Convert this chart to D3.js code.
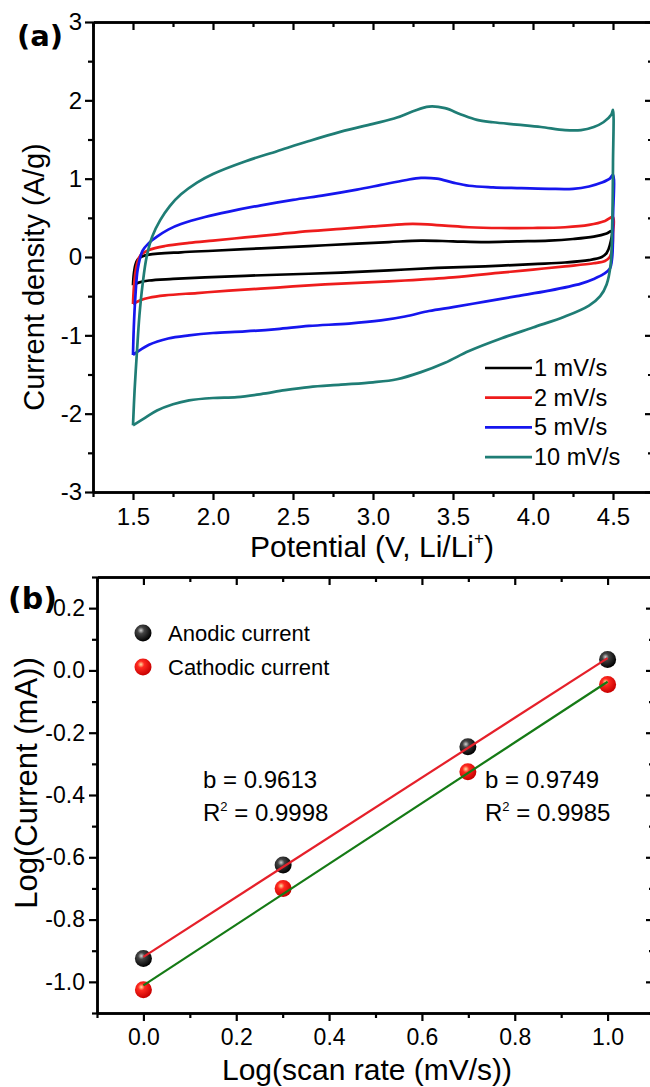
<!DOCTYPE html>
<html>
<head>
<meta charset="utf-8">
<script src="https://cdn.jsdelivr.net/npm/d3@7"></script>
<style>
body { margin: 0; background: #fff; }
svg { display: block; font-family: "Liberation Sans", Arial, sans-serif; }
</style>
</head>
<body>
<div id="chart"></div>
<script>
// (a) CV loops, [potential V, current density A/g], forward sweep then reverse
const cv1 = [
    [1.5, -0.36], [1.505, -0.22], [1.515, -0.1], [1.53, -0.03], [1.56, 0.01], [1.6, 0.03],
    [1.8, 0.06], [2.0, 0.08], [2.3, 0.11], [2.6, 0.14], [2.9, 0.17], [3.1, 0.19], [3.3, 0.21],
    [3.5, 0.2], [3.7, 0.19], [3.9, 0.2], [4.1, 0.21], [4.25, 0.23], [4.38, 0.26], [4.46, 0.3],
    [4.49, 0.33],
    [4.48, 0.15], [4.46, 0.05], [4.43, 0.0], [4.35, -0.04], [4.2, -0.07], [4.0, -0.09],
    [3.7, -0.12], [3.4, -0.14], [3.1, -0.17], [2.8, -0.2], [2.5, -0.22], [2.2, -0.24],
    [1.95, -0.26], [1.75, -0.28], [1.6, -0.3], [1.53, -0.33], [1.5, -0.36]
];
const cv2 = [
    [1.5, -0.6], [1.505, -0.4], [1.515, -0.2], [1.53, -0.05], [1.55, 0.03], [1.6, 0.09],
    [1.7, 0.14], [1.85, 0.18], [2.0, 0.21], [2.2, 0.25], [2.4, 0.29], [2.6, 0.33], [2.8, 0.36],
    [3.0, 0.39], [3.2, 0.42], [3.3, 0.42], [3.45, 0.4], [3.6, 0.38], [3.8, 0.37], [4.0, 0.37],
    [4.2, 0.38], [4.35, 0.41], [4.45, 0.46], [4.5, 0.51],
    [4.5, 0.3], [4.495, 0.1], [4.48, 0.0], [4.45, -0.05], [4.38, -0.08], [4.2, -0.12],
    [4.0, -0.16], [3.8, -0.2], [3.5, -0.26], [3.2, -0.3], [3.0, -0.32], [2.7, -0.35],
    [2.4, -0.39], [2.1, -0.43], [1.9, -0.46], [1.7, -0.49], [1.6, -0.52], [1.55, -0.55], [1.5, -0.6]
];
const cv5 = [
    [1.5, -1.25], [1.505, -0.9], [1.515, -0.5], [1.53, -0.15], [1.56, 0.08], [1.6, 0.18],
    [1.65, 0.26], [1.72, 0.35], [1.8, 0.42], [1.95, 0.51], [2.1, 0.58], [2.3, 0.66], [2.5, 0.73],
    [2.7, 0.79], [2.9, 0.86], [3.05, 0.92], [3.2, 0.98], [3.3, 1.01], [3.4, 1.0], [3.5, 0.95],
    [3.6, 0.91], [3.75, 0.89], [3.9, 0.88], [4.1, 0.87], [4.25, 0.87], [4.35, 0.9], [4.43, 0.95],
    [4.48, 1.0], [4.5, 1.05],
    [4.5, 0.5], [4.495, 0.0], [4.48, -0.15], [4.44, -0.22], [4.38, -0.28], [4.3, -0.34],
    [4.1, -0.43], [3.9, -0.5], [3.7, -0.57], [3.5, -0.64], [3.35, -0.69], [3.2, -0.76],
    [3.05, -0.81], [2.85, -0.85], [2.6, -0.88], [2.4, -0.92], [2.2, -0.95], [2.0, -0.97],
    [1.85, -1.0], [1.72, -1.04], [1.6, -1.12], [1.5, -1.25]
];
const cv10 = [
    [1.5, -2.15], [1.51, -1.7], [1.525, -1.2], [1.54, -0.75], [1.56, -0.35], [1.585, 0.0],
    [1.62, 0.26], [1.67, 0.47], [1.73, 0.65], [1.8, 0.8], [1.9, 0.95], [2.0, 1.06], [2.2, 1.22],
    [2.4, 1.35], [2.6, 1.48], [2.8, 1.6], [3.0, 1.7], [3.15, 1.78], [3.25, 1.86], [3.35, 1.92],
    [3.45, 1.9], [3.55, 1.82], [3.65, 1.75], [3.75, 1.72], [3.9, 1.69], [4.05, 1.66], [4.2, 1.62],
    [4.3, 1.62], [4.38, 1.66], [4.44, 1.72], [4.49, 1.82], [4.5, 1.88],
    [4.5, 1.2], [4.495, 0.4], [4.485, -0.1], [4.46, -0.35], [4.42, -0.5], [4.35, -0.62],
    [4.2, -0.76], [4.0, -0.9], [3.8, -1.04], [3.6, -1.2], [3.45, -1.35], [3.3, -1.47],
    [3.15, -1.56], [3.0, -1.6], [2.8, -1.63], [2.6, -1.66], [2.45, -1.7], [2.3, -1.75],
    [2.15, -1.79], [2.0, -1.8], [1.85, -1.83], [1.75, -1.88], [1.65, -1.96], [1.57, -2.06],
    [1.5, -2.15]
];
const scanRates = ['1 mV/s', '2 mV/s', '5 mV/s', '10 mV/s'];
const cvColors = ['#000000', '#ee1c1c', '#1616ee', '#1f7d75'];
const potentialTicks = [1.5, 2.0, 2.5, 3.0, 3.5, 4.0, 4.5];
const densityTicks = [-3, -2, -1, 0, 1, 2, 3];

// (b) log(peak current) vs log(scan rate)
const logRate = [0, 0.301, 0.699, 1];
const anodic = [-0.925, -0.625, -0.245, 0.035];
const cathodic = [-1.025, -0.7, -0.325, -0.045];
const bValues = ['0.9613', '0.9749'];
const r2Values = ['0.9998', '0.9985'];
const logRateTicks = [0.0, 0.2, 0.4, 0.6, 0.8, 1.0];
const logCurrentTicks = [-1.0, -0.8, -0.6, -0.4, -0.2, 0.0, 0.2];

const width = 650, height = 1087;
const svg = d3.select('#chart').append('svg')
    .attr('width', width)
    .attr('height', height);

const defs = svg.append('defs');
function ball(id, hi, mid, dark) {
    const g = defs.append('radialGradient').attr('id', id)
        .attr('cx', '38%').attr('cy', '35%').attr('r', '65%');
    g.append('stop').attr('offset', '0%').attr('stop-color', hi);
    g.append('stop').attr('offset', '30%').attr('stop-color', mid);
    g.append('stop').attr('offset', '100%').attr('stop-color', dark);
}
ball('ballBlack', '#d0d0d0', '#444', '#000');
ball('ballRed', '#ffe0a0', '#ff2a20', '#c80000');

function frame(g, x, y, o) {
    const [x0, x1] = x.range(), [y0, y1] = y.range();
    const put = (axis, tx, ty) => {
        const a = g.append('g').attr('transform', `translate(${tx},${ty})`).call(axis);
        a.attr('font-size', o.fontSize).attr('font-family', '"Liberation Sans", Arial, sans-serif');
        a.select('.domain').attr('stroke-width', 2.5);
        a.selectAll('line').attr('stroke-width', 2.2);
        a.selectAll('text').style('font-size', o.fontSize + 'px').attr('fill', '#000');
        return a;
    };
    // minor ticks first, majors with labels on top
    put(d3.axisBottom(x).tickValues(o.xMinor).tickSize(5).tickSizeOuter(0).tickFormat(''), 0, y0);
    put(d3.axisBottom(x).tickValues(o.xMajor).tickSize(8).tickSizeOuter(0)
        .tickPadding(o.xPad).tickFormat(o.xFmt), 0, y0);
    put(d3.axisLeft(y).tickValues(o.yMinor).tickSize(5).tickSizeOuter(0).tickFormat(''), x0, 0);
    put(d3.axisLeft(y).tickValues(o.yMajor).tickSize(8).tickSizeOuter(0)
        .tickPadding(o.yPad).tickFormat(o.yFmt), x0, 0);
    put(d3.axisTop(x).tickValues(o.xMinor).tickSize(-5).tickSizeOuter(0).tickFormat(''), 0, y1);
    put(d3.axisTop(x).tickValues(o.xMajor).tickSize(-8).tickSizeOuter(0).tickFormat(''), 0, y1);
    put(d3.axisRight(y).tickValues(o.yMinor).tickSize(-5).tickSizeOuter(0).tickFormat(''), x1, 0);
    put(d3.axisRight(y).tickValues(o.yMajor).tickSize(-8).tickSizeOuter(0).tickFormat(''), x1, 0);
}

function label(g, x, y, str, size, opts = {}) {
    return g.append('text')
        .attr('x', x).attr('y', y)
        .attr('font-size', size)
        .attr('text-anchor', opts.anchor || 'start')
        .attr('font-weight', opts.weight || null)
        .attr('font-family', opts.family || null)
        .attr('transform', opts.rotate ? `rotate(-90,${x},${y})` : null)
        .text(str);
}

// ---------- panel (a) ----------
const ga = svg.append('g');
const xa = d3.scaleLinear().domain([1.25, 4.75]).range([93, 653]);
const ya = d3.scaleLinear().domain([-3, 3]).range([492, 22]);

const cvLine = d3.line()
    .x(d => xa(d[0]))
    .y(d => ya(d[1]))
    .curve(d3.curveCatmullRom.alpha(0.5));

[cv1, cv2, cv5, cv10].forEach((loop, i) => {
    ga.append('path')
        .attr('d', cvLine(loop))
        .attr('fill', 'none')
        .attr('stroke', cvColors[i])
        .attr('stroke-width', 2.7)
        .attr('stroke-linejoin', 'round');
});

frame(ga, xa, ya, {
    xMajor: potentialTicks, xMinor: d3.range(1.25, 4.8, 0.5),
    yMajor: densityTicks, yMinor: d3.range(-2.5, 3, 1),
    xFmt: d => d.toFixed(1), yFmt: d => String(d),
    xPad: 8, yPad: 3, fontSize: 24
});

const legA = ga.append('g');
scanRates.forEach((s, i) => {
    const ly = 368 + i * 29.7;
    legA.append('line')
        .attr('x1', 485).attr('x2', 532).attr('y1', ly).attr('y2', ly)
        .attr('stroke', cvColors[i]).attr('stroke-width', 2.7);
    label(legA, 534, ly + 8, s, 23.5);
});

label(ga, 17, 46, '(a)', 29, { weight: 'bold', family: '"DejaVu Sans", sans-serif' });
label(ga, 44, 277, 'Current density (A/g)', 29, { anchor: 'middle', rotate: true });
const ta = label(ga, 372, 557, 'Potential (V, Li/Li', 30, { anchor: 'middle' });
ta.append('tspan').attr('font-size', 17).attr('dy', -13).text('+');
ta.append('tspan').attr('dy', 13).text(')');

// ---------- panel (b) ----------
const gb = svg.append('g');
const xb = d3.scaleLinear().domain([-0.1, 1.1]).range([97, 654]);
const yb = d3.scaleLinear().domain([-1.1, 0.3]).range([1013, 577]);

function fit(xs, ys) {
    const mx = d3.mean(xs), my = d3.mean(ys);
    const sxy = d3.sum(xs, (v, i) => (v - mx) * (ys[i] - my));
    const sxx = d3.sum(xs, v => (v - mx) * (v - mx));
    const k = sxy / sxx;
    return [[0, my - k * mx], [1, my + k * (1 - mx)]];
}

const series = [
    { ys: anodic, ballFill: 'url(#ballBlack)', fitColor: '#e5202a' },
    { ys: cathodic, ballFill: 'url(#ballRed)', fitColor: '#157a15' }
];

series.forEach(s => {
    gb.append('g').selectAll('circle')
        .data(logRate.map((v, i) => [v, s.ys[i]]))
        .enter().append('circle')
        .attr('cx', d => xb(d[0]))
        .attr('cy', d => yb(d[1]))
        .attr('r', 8.5)
        .attr('fill', s.ballFill);
});

const fitLine = d3.line().x(d => xb(d[0])).y(d => yb(d[1]));
series.forEach(s => {
    gb.append('path')
        .attr('d', fitLine(fit(logRate, s.ys)))
        .attr('stroke', s.fitColor)
        .attr('stroke-width', 2.2)
        .attr('fill', 'none');
});

frame(gb, xb, yb, {
    xMajor: logRateTicks, xMinor: d3.range(-0.1, 1.15, 0.2),
    yMajor: logCurrentTicks, yMinor: d3.range(-1.1, 0.35, 0.2),
    xFmt: d => d.toFixed(1), yFmt: d => d.toFixed(1),
    xPad: 8, yPad: 4, fontSize: 23
});

const legB = gb.append('g');
[['Anodic current', 'url(#ballBlack)'], ['Cathodic current', 'url(#ballRed)']].forEach((d, i) => {
    const ly = 633 + i * 34;
    legB.append('circle').attr('cx', 143).attr('cy', ly).attr('r', 8.5).attr('fill', d[1]);
    label(legB, 168, ly + 8, d[0], 22);
});

[[203, 0], [485, 1]].forEach(([ax, i]) => {
    label(gb, ax, 788, 'b = ' + bValues[i], 24);
    const r = label(gb, ax, 821, 'R', 24);
    r.append('tspan').attr('font-size', 13).attr('dy', -10).text('2');
    r.append('tspan').attr('dy', 10).text(' = ' + r2Values[i]);
});

label(gb, 8, 609, '(b)', 30, { weight: 'bold', family: '"DejaVu Sans", sans-serif' });
label(gb, 37, 783, 'Log(Current (mA))', 31, { anchor: 'middle', rotate: true });
label(gb, 367, 1080, 'Log(scan rate (mV/s))', 30, { anchor: 'middle' });
</script>
</body>
</html>
